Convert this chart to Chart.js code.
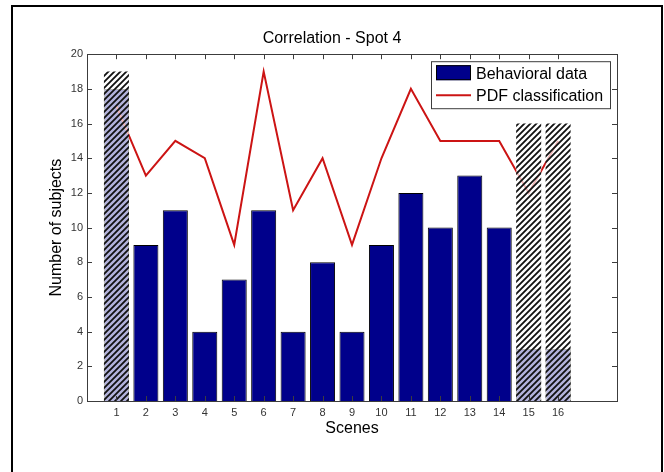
<!DOCTYPE html>
<html>
<head>
<meta charset="utf-8">
<script src="https://cdn.jsdelivr.net/npm/chart.js@4.4.0/dist/chart.umd.min.js"></script>
<style>
  html, body { margin: 0; padding: 0; background: #fff; }
  #wrap { width: 664px; height: 472px; }
</style>
</head>
<body>
<div id="wrap"><canvas id="chartArea"></canvas></div>
<script>
// values
const scenes = [1, 2, 3, 4, 5, 6, 7, 8, 9, 10, 11, 12, 13, 14, 15, 16];
const behavioral = [18, 9, 11, 4, 7, 11, 4, 8, 4, 9, 12, 10, 13, 10, 3, 3];
const pdfClass = [17, 13, 15, 14, 9, 19, 11, 14, 9, 14, 18, 15, 15, 15, 12, 15];
const hatchedScenes = [1, 15, 16];
const hatchedTops = [19, 16, 16];
const yTickValues = [0, 2, 4, 6, 8, 10, 12, 14, 16, 18, 20];

const FONT = "Arial, 'Liberation Sans', sans-serif";
const NAVY = "#00008b";
const RED = "#cc1414";
const AXIS = "#3c3c3c";

// hatch: translucent white + black diagonal stripes
function makeHatch() {
    const s = 6;
    const c = document.createElement("canvas");
    c.width = s; c.height = s;
    const g = c.getContext("2d");
    g.fillStyle = "rgba(255,255,255,0.7)";
    g.fillRect(0, 0, s, s);
    g.strokeStyle = "#111";
    g.lineWidth = 1.8;
    g.beginPath();
    g.moveTo(-1, s + 1); g.lineTo(s + 1, -1);
    g.moveTo(-1, 1); g.lineTo(1, -1);
    g.moveTo(s - 1, s + 1); g.lineTo(s + 1, s - 1);
    g.stroke();
    return g.createPattern(c, "repeat");
}

const chartCanvas = document.getElementById("chartArea");
const hatch = makeHatch();

const framePlugin = {
    id: "matlabFrame",
    beforeDraw(chart) {
        const ctx = chart.ctx;
        ctx.save();
        ctx.strokeStyle = "#000";
        ctx.lineWidth = 2;
        ctx.strokeRect(12, 6, 650, 480);
        ctx.restore();
    },
    afterDraw(chart) {
        const {ctx, chartArea: a, scales: {x, y}} = chart;
        ctx.save();
        ctx.strokeStyle = AXIS;
        ctx.lineWidth = 1;
        ctx.beginPath();
        // inner ticks on all four sides
        scenes.forEach(s => {
            const px = Math.round(x.getPixelForValue(s)) + 0.5;
            ctx.moveTo(px, a.bottom); ctx.lineTo(px, a.bottom - 5);
            ctx.moveTo(px, a.top); ctx.lineTo(px, a.top + 5);
        });
        yTickValues.forEach(v => {
            const py = Math.round(y.getPixelForValue(v)) + 0.5;
            ctx.moveTo(a.left, py); ctx.lineTo(a.left + 5, py);
            ctx.moveTo(a.right, py); ctx.lineTo(a.right - 5, py);
        });
        ctx.stroke();
        ctx.strokeRect(Math.round(a.left) + 0.5, Math.round(a.top) + 0.5,
            Math.round(a.right - a.left), Math.round(a.bottom - a.top));

        // legend box in the top-right corner of the axes
        const bx = a.right - 186, by = a.top + 7, bw = 179, bh = 47;
        ctx.fillStyle = "#fff";
        ctx.fillRect(bx, by, bw, bh);
        ctx.strokeRect(bx + 0.5, by + 0.5, bw, bh);
        const bars = chart.data.datasets[0], line = chart.data.datasets[1];
        ctx.fillStyle = bars.backgroundColor;
        ctx.fillRect(bx + 5, by + 4, 35, 15);
        ctx.strokeStyle = "#000";
        ctx.strokeRect(bx + 5.5, by + 4.5, 34, 14);
        ctx.strokeStyle = line.borderColor;
        ctx.lineWidth = 2;
        ctx.beginPath();
        ctx.moveTo(bx + 5, by + 34); ctx.lineTo(bx + 40, by + 34);
        ctx.stroke();
        ctx.fillStyle = "#000";
        ctx.font = "16px " + FONT;
        ctx.textBaseline = "middle";
        ctx.fillText(bars.label, bx + 45, by + 13);
        ctx.fillText(line.label, bx + 45, by + 35);
        ctx.restore();
    }
};

const chart = new Chart(chartCanvas, {
    type: "bar",
    data: {
        datasets: [{
            label: "Behavioral data",
            data: scenes.map((s, i) => ({x: s, y: behavioral[i]})),
            backgroundColor: NAVY,
            borderColor: "#000",
            borderWidth: 1,
            barPercentage: 0.85,
            categoryPercentage: 1,
            grouped: false,
            order: 3
        }, {
            type: "line",
            label: "PDF classification",
            data: scenes.map((s, i) => ({x: s, y: pdfClass[i]})),
            borderColor: RED,
            borderWidth: 2,
            pointRadius: 0,
            tension: 0,
            order: 2
        }, {
            label: "hatched",
            data: hatchedScenes.map((s, i) => ({x: s, y: hatchedTops[i]})),
            backgroundColor: hatch,
            borderWidth: 0,
            barPercentage: 0.85,
            categoryPercentage: 1,
            grouped: false,
            order: 1
        }]
    },
    options: {
        responsive: true,
        maintainAspectRatio: false,
        animation: false,
        layout: { padding: { left: 47, right: 47, top: 0, bottom: 31 } },
        plugins: {
            legend: { display: false },
            tooltip: { enabled: false },
            title: {
                display: true,
                text: "Correlation - Spot 4",
                color: "#000",
                font: { family: FONT, size: 16, weight: "normal" },
                padding: { top: 29, bottom: 6 }
            }
        },
        scales: {
            x: {
                type: "linear",
                min: 0,
                max: 18,
                offset: false,
                grid: { display: false, drawTicks: false },
                border: { display: false },
                ticks: {
                    stepSize: 1,
                    autoSkip: false,
                    maxRotation: 0,
                    padding: 5,
                    color: "#333",
                    font: { family: FONT, size: 11 },
                    callback: v => (scenes.includes(v) ? String(v) : "")
                },
                title: {
                    display: true,
                    text: "Scenes",
                    color: "#000",
                    font: { family: FONT, size: 16 },
                    padding: { top: 0, bottom: 3 }
                },
                afterFit: s => { s.height = 40; }
            },
            y: {
                min: 0,
                max: 20,
                grid: { display: false, drawTicks: false },
                border: { display: false },
                afterBuildTicks: s => { s.ticks = yTickValues.map(v => ({value: v})); },
                ticks: {
                    padding: 4,
                    color: "#333",
                    font: { family: FONT, size: 11 }
                },
                title: {
                    display: true,
                    text: "Number of subjects",
                    color: "#000",
                    font: { family: FONT, size: 16 },
                    padding: { top: 0, bottom: 0 }
                },
                afterFit: s => { s.width = 40; }
            }
        }
    },
    plugins: [framePlugin]
});
</script>
</body>
</html>
